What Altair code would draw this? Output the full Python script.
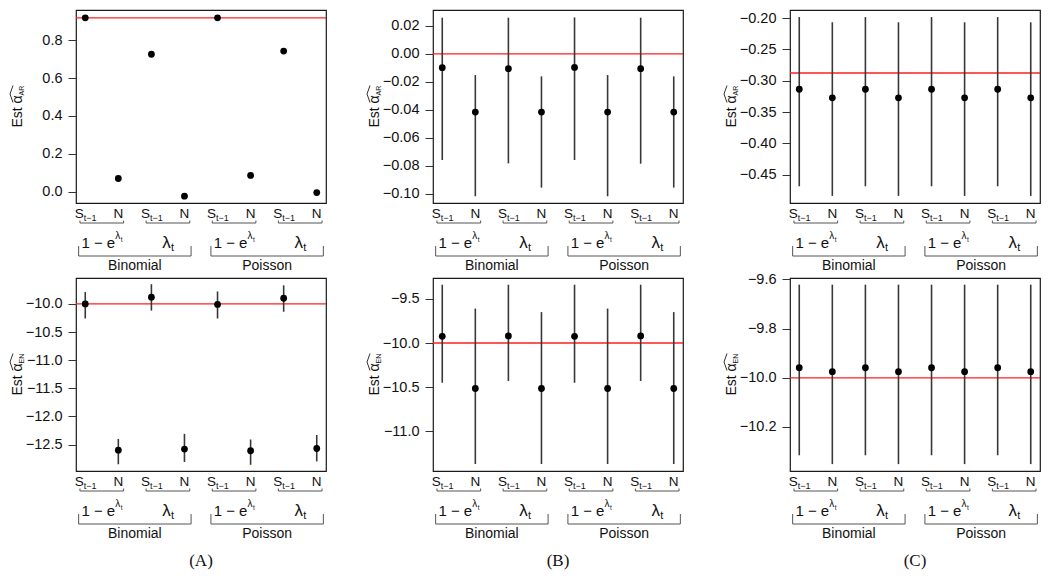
import altair as alt
import pandas as pd

# ---------------- data ----------------
positions = [1, 2, 3, 4, 5, 6, 7, 8]
regressor = ["S", "N", "S", "N", "S", "N", "S", "N"]
link_kind = ["exp", "lam", "exp", "lam"]           # 1 - e^lambda_t , lambda_t
family_names = ["Binomial", "Poisson"]

# Panel A
a_ar_est = [0.917, 0.071, 0.725, -0.022, 0.917, 0.087, 0.742, -0.003]
a_ar_true = 0.917
a_en_est = [-10.00, -12.60, -9.88, -12.58, -10.01, -12.61, -9.90, -12.57]
a_en_lo = [-10.26, -12.85, -10.12, -12.81, -10.26, -12.86, -10.14, -12.80]
a_en_hi = [-9.79, -12.40, -9.65, -12.31, -9.78, -12.41, -9.67, -12.33]
a_en_true = -10.0

# Panel B
b_ar_est = [-0.0099, -0.0416, -0.0106, -0.0416, -0.0097, -0.0416, -0.0106, -0.0416]
b_ar_lo = [-0.0759, -0.1018, -0.0783, -0.0956, -0.0759, -0.1018, -0.0785, -0.0956]
b_ar_hi = [0.0258, -0.0152, 0.0258, -0.0161, 0.0260, -0.0152, 0.0258, -0.0161]
b_ar_true = 0.0
b_en_est = [-9.924, -10.515, -9.920, -10.515, -9.924, -10.515, -9.920, -10.515]
b_en_lo = [-10.45, -11.37, -10.43, -11.37, -10.45, -11.37, -10.43, -11.37]
b_en_hi = [-9.34, -9.61, -9.34, -9.65, -9.34, -9.61, -9.34, -9.65]
b_en_true = -10.0

# Panel C
c_ar_est = [-0.3136, -0.3272, -0.3136, -0.3272, -0.3136, -0.3272, -0.3136, -0.3272]
c_ar_lo = [-0.4683, -0.4837, -0.4683, -0.4837, -0.4683, -0.4837, -0.4683, -0.4837]
c_ar_hi = [-0.1985, -0.2068, -0.1985, -0.2068, -0.1985, -0.2068, -0.1985, -0.2068]
c_ar_true = -0.2877
c_en_est = [-9.959, -9.975, -9.959, -9.975, -9.959, -9.975, -9.959, -9.975]
c_en_lo = [-10.315, -10.351, -10.315, -10.351, -10.315, -10.351, -10.315, -10.351]
c_en_hi = [-9.621, -9.621, -9.621, -9.621, -9.621, -9.621, -9.621, -9.621]
c_en_true = -10.0

# axis tick values
a_ar_ticks = [0.0, 0.2, 0.4, 0.6, 0.8]
a_en_ticks = [-12.5, -12.0, -11.5, -11.0, -10.5, -10.0]
b_ar_ticks = [-0.10, -0.08, -0.06, -0.04, -0.02, 0.00, 0.02]
b_en_ticks = [-11.0, -10.5, -10.0, -9.5]
c_ar_ticks = [-0.45, -0.40, -0.35, -0.30, -0.25, -0.20]
c_en_ticks = [-10.2, -10.0, -9.8, -9.6]

# ---------------- layout / style ----------------
W, H = 250, 193
FONT = "Liberation Sans"
X_DOMAIN = [0.72, 8.28]
INK = "#1a1a1a"
BR = "#555555"


def panel(est, truth, domain, ticks, fmt, sub, lo=None, hi=None, label=None, anchor=False):
    df = pd.DataFrame({"pos": positions, "est": est, "kind": regressor})
    if lo is not None:
        df["lo"] = lo
        df["hi"] = hi
    xs = alt.Scale(domain=X_DOMAIN, nice=False, zero=False)
    ys = alt.Scale(domain=domain, nice=False, zero=False)
    yaxis = alt.Axis(values=ticks, format=fmt, domain=False, grid=False,
                     tickSize=8, tickColor="#333333", tickWidth=1,
                     labelFontSize=14.5, labelFont=FONT, labelColor="#111111",
                     labelPadding=6, labelOverlap=False)
    X = alt.X("pos:Q", scale=xs, axis=None)

    def Y(field):
        return alt.Y(field, scale=ys, axis=yaxis, title=None)

    base = alt.Chart(df)
    layers = []
    if anchor:
        layers.append(alt.Chart(pd.DataFrame({"a": [0]})).mark_rule(color="white", strokeWidth=1)
                      .encode(x=alt.value(-65.5), y=alt.value(0), y2=alt.value(1)))
    layers.append(alt.Chart(pd.DataFrame({"truth": [truth]})).mark_rule(color="#ff1f1f", strokeWidth=1.3)
                  .encode(y=Y("truth:Q")))
    if lo is not None:
        layers.append(base.mark_rule(color="#383838", strokeWidth=1.6)
                      .encode(x=X, y=Y("lo:Q"), y2="hi:Q"))
    layers.append(base.mark_circle(size=46, color="black", opacity=1)
                  .encode(x=X, y=Y("est:Q")))

    # regressor labels: S_{t-1} and N
    txt = dict(font=FONT, color="#111111")
    layers.append(base.transform_filter(alt.datum.kind == "S")
                  .mark_text(fontSize=13.5, align="center", baseline="alphabetic", dx=-6, **txt)
                  .encode(x=X, y=alt.value(H + 15), text="kind:N"))
    layers.append(base.transform_filter(alt.datum.kind == "S")
                  .mark_text(fontSize=9, align="left", baseline="alphabetic", dx=-1.5, **txt)
                  .encode(x=X, y=alt.value(H + 18), text=alt.value("t\u22121")))
    layers.append(base.transform_filter(alt.datum.kind == "N")
                  .mark_text(fontSize=13.5, align="center", baseline="alphabetic", **txt)
                  .encode(x=X, y=alt.value(H + 15), text="kind:N"))

    # small brackets under each S/N pair
    pairs = pd.DataFrame({
        "left": [positions[i] - 0.16 for i in range(0, 8, 2)],
        "right": [positions[i + 1] + 0.16 for i in range(0, 8, 2)],
        "mid": [(positions[i] + positions[i + 1]) / 2 for i in range(0, 8, 2)],
        "link": link_kind,
    })
    ends = pd.DataFrame({"end": list(pairs["left"]) + list(pairs["right"])})
    pb = alt.Chart(pairs)
    layers.append(pb.mark_rule(color=BR, strokeWidth=1)
                  .encode(x=alt.X("left:Q", scale=xs, axis=None), x2="right:Q", y=alt.value(H + 20)))
    layers.append(alt.Chart(ends).mark_rule(color=BR, strokeWidth=1)
                  .encode(x=alt.X("end:Q", scale=xs, axis=None), y=alt.value(H + 17.5), y2=alt.value(H + 20)))

    MX = alt.X("mid:Q", scale=xs, axis=None)
    exp_p = pb.transform_filter(alt.datum.link == "exp")
    lam_p = pb.transform_filter(alt.datum.link == "lam")
    layers.append(exp_p.mark_text(fontSize=15, align="center", baseline="alphabetic", dx=-3.5, **txt)
                  .encode(x=MX, y=alt.value(H + 45), text=alt.value("1 \u2212 e")))
    layers.append(exp_p.mark_text(fontSize=10, align="left", baseline="alphabetic", dx=13.5, **txt)
                  .encode(x=MX, y=alt.value(H + 36), text=alt.value("\u03bb")))
    layers.append(exp_p.mark_text(fontSize=6.5, align="left", baseline="alphabetic", dx=19, **txt)
                  .encode(x=MX, y=alt.value(H + 38.5), text=alt.value("t")))
    layers.append(lam_p.mark_text(fontSize=17, align="center", baseline="alphabetic", dx=-1.5, **txt)
                  .encode(x=MX, y=alt.value(H + 45), text=alt.value("\u03bb")))
    layers.append(lam_p.mark_text(fontSize=11, align="left", baseline="alphabetic", dx=3, **txt)
                  .encode(x=MX, y=alt.value(H + 48), text=alt.value("t")))

    # family brackets
    fam = pd.DataFrame({
        "first": [positions[0] - 0.2, positions[4] - 0.2],
        "last": [positions[3] + 0.2, positions[7] + 0.2],
        "mid": [(positions[0] + positions[3]) / 2, (positions[4] + positions[7]) / 2],
        "family": family_names,
    })
    fends = pd.DataFrame({"end": list(fam["first"]) + list(fam["last"])})
    fb = alt.Chart(fam)
    layers.append(fb.mark_rule(color=BR, strokeWidth=1)
                  .encode(x=alt.X("first:Q", scale=xs, axis=None), x2="last:Q", y=alt.value(H + 53)))
    layers.append(alt.Chart(fends).mark_rule(color=BR, strokeWidth=1)
                  .encode(x=alt.X("end:Q", scale=xs, axis=None), y=alt.value(H + 43), y2=alt.value(H + 53)))
    layers.append(fb.mark_text(fontSize=14, align="center", baseline="alphabetic", **txt)
                  .encode(x=MX, y=alt.value(H + 67), text="family:N"))

    # y title:  Est alpha-hat_{sub}
    tb = H / 2 + 21
    tx = -54.5
    layers.append(alt.Chart(pd.DataFrame({"a": [0]})).mark_text(
        fontSize=14, angle=270, align="left", baseline="alphabetic", **txt)
        .encode(x=alt.value(tx), y=alt.value(tb), text=alt.value("Est \u03b1")))
    layers.append(alt.Chart(pd.DataFrame({"a": [0]})).mark_text(
        fontSize=7, angle=270, align="left", baseline="alphabetic", dx=32, dy=2, **txt)
        .encode(x=alt.value(tx), y=alt.value(tb), text=alt.value(sub)))
    hat = pd.DataFrame({"a": [0]})
    layers.append(alt.Chart(hat).mark_rule(color=INK, strokeWidth=0.9)
                  .encode(x=alt.value(tx - 8.5), y=alt.value(tb - 25), x2=alt.value(tx - 11.5), y2=alt.value(tb - 33.5)))
    layers.append(alt.Chart(hat).mark_rule(color=INK, strokeWidth=0.9)
                  .encode(x=alt.value(tx - 11.5), y=alt.value(tb - 33.5), x2=alt.value(tx - 8.5), y2=alt.value(tb - 42)))

    if label is not None:
        layers.append(alt.Chart(pd.DataFrame({"a": [0]})).mark_text(
            fontSize=17, font="Liberation Serif", color="#111111", align="center", baseline="alphabetic")
            .encode(x=alt.value(W / 2), y=alt.value(H + 95), text=alt.value(label)))

    return alt.layer(*layers).properties(width=W, height=H)


pA1 = panel(a_ar_est, a_ar_true, [-0.058, 0.958], a_ar_ticks, ".1f", "AR", anchor=True)
pB1 = panel(b_ar_est, b_ar_true, [-0.1066, 0.0313], b_ar_ticks, ".2f", "AR", lo=b_ar_lo, hi=b_ar_hi)
pC1 = panel(c_ar_est, c_ar_true, [-0.4950, -0.1872], c_ar_ticks, ".2f", "AR", lo=c_ar_lo, hi=c_ar_hi)
pA2 = panel(a_en_est, a_en_true, [-12.97, -9.54], a_en_ticks, ".1f", "EN", lo=a_en_lo, hi=a_en_hi,
            label="(A)", anchor=True)
pB2 = panel(b_en_est, b_en_true, [-11.449, -9.264], b_en_ticks, ".1f", "EN", lo=b_en_lo, hi=b_en_hi,
            label="(B)")
pC2 = panel(c_en_est, c_en_true, [-10.379, -9.594], c_en_ticks, ".1f", "EN", lo=c_en_lo, hi=c_en_hi,
            label="(C)")

chart = alt.concat(pA1, pB1, pC1, pA2, pB2, pC2, columns=3,
                   spacing={"row": 75, "column": 107}, bounds="flush").properties(
    padding=0, background="white"
).configure_view(stroke=INK, strokeWidth=1.2)

chart.save("out.html", embed_options={"renderer": "svg", "actions": False})
